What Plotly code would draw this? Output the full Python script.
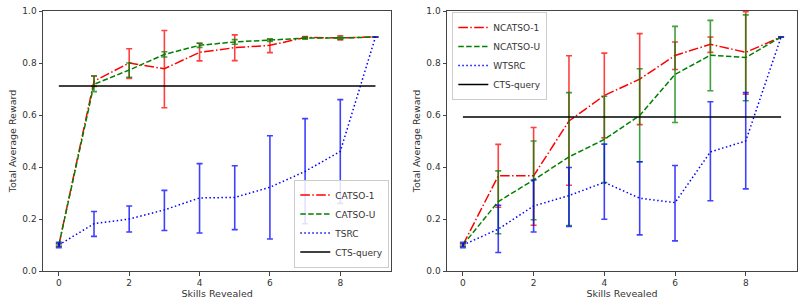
import plotly.graph_objects as go

skills = list(range(10))

# Left panel
catso1 = [0.10, 0.73, 0.80, 0.778, 0.841, 0.859, 0.868, 0.898, 0.897, 0.90]
catso1_hi = [0.105, 0.75, 0.855, 0.925, 0.876, 0.908, 0.89, 0.902, 0.905, 0.90]
catso1_lo = [0.095, 0.71, 0.741, 0.628, 0.808, 0.809, 0.84, 0.894, 0.889, 0.90]
catsou = [0.10, 0.718, 0.773, 0.833, 0.868, 0.881, 0.888, 0.896, 0.896, 0.90]
catsou_hi = [0.105, 0.75, 0.80, 0.843, 0.876, 0.89, 0.893, 0.90, 0.90, 0.90]
catsou_lo = [0.095, 0.69, 0.745, 0.823, 0.860, 0.872, 0.883, 0.892, 0.892, 0.90]
tsrc = [0.10, 0.182, 0.20, 0.235, 0.281, 0.283, 0.322, 0.383, 0.46, 0.90]
tsrc_hi = [0.11, 0.229, 0.25, 0.31, 0.413, 0.405, 0.52, 0.586, 0.659, 0.90]
tsrc_lo = [0.09, 0.133, 0.15, 0.156, 0.146, 0.159, 0.123, 0.182, 0.26, 0.90]
cts_left = [0.712] * 10

# Right panel
ncatso1 = [0.10, 0.366, 0.366, 0.577, 0.675, 0.738, 0.829, 0.872, 0.841, 0.90]
ncatso1_hi = [0.105, 0.487, 0.552, 0.828, 0.838, 0.913, 0.881, 0.90, 0.997, 0.90]
ncatso1_lo = [0.095, 0.245, 0.176, 0.33, 0.512, 0.563, 0.775, 0.841, 0.68, 0.90]
ncatsou = [0.10, 0.267, 0.35, 0.439, 0.506, 0.598, 0.756, 0.83, 0.821, 0.90]
ncatsou_hi = [0.105, 0.385, 0.50, 0.686, 0.672, 0.778, 0.941, 0.964, 0.985, 0.90]
ncatsou_lo = [0.095, 0.143, 0.197, 0.175, 0.34, 0.42, 0.571, 0.693, 0.655, 0.90]
wtsrc = [0.10, 0.161, 0.25, 0.29, 0.341, 0.28, 0.263, 0.458, 0.50, 0.90]
wtsrc_hi = [0.11, 0.253, 0.35, 0.398, 0.488, 0.42, 0.406, 0.651, 0.686, 0.90]
wtsrc_lo = [0.09, 0.071, 0.15, 0.171, 0.199, 0.139, 0.116, 0.27, 0.316, 0.90]
cts_right = [0.592] * 10

FONT = "DejaVu Sans"
TXT = "#333333"
DASHDOT = "9.6px,2.4px,1.5px,2.4px"
DASH = "5.5px,2.4px"
DOT = "1.5px,2.5px"


def err(y, hi, lo, color):
    return dict(
        type="data", symmetric=False,
        array=[h - v for h, v in zip(hi, y)],
        arrayminus=[v - l for v, l in zip(y, lo)],
        color=color, thickness=1.6, width=3,
    )


fig = go.Figure()


def add(y, hi, lo, name, color, ecolor, dash, xa, ya, legend):
    fig.add_trace(go.Scatter(
        x=skills, y=y, name=name, mode="lines",
        line=dict(color=color, width=1.5, dash=dash),
        error_y=err(y, hi, lo, ecolor) if hi is not None else None,
        xaxis=xa, yaxis=ya, legend=legend,
    ))


add(catso1, catso1_hi, catso1_lo, "CATSO-1", "#ff0000", "rgba(255,0,0,0.75)", DASHDOT, "x", "y", "legend")
add(catsou, catsou_hi, catsou_lo, "CATSO-U", "#008000", "rgba(0,128,0,0.75)", DASH, "x", "y", "legend")
add(tsrc, tsrc_hi, tsrc_lo, "TSRC", "#0000ff", "rgba(0,0,255,0.75)", DOT, "x", "y", "legend")
add(cts_left, None, None, "CTS-query", "#000000", None, "solid", "x", "y", "legend")

add(ncatso1, ncatso1_hi, ncatso1_lo, "NCATSO-1", "#ff0000", "rgba(255,0,0,0.75)", DASHDOT, "x2", "y2", "legend2")
add(ncatsou, ncatsou_hi, ncatsou_lo, "NCATSO-U", "#008000", "rgba(0,128,0,0.75)", DASH, "x2", "y2", "legend2")
add(wtsrc, wtsrc_hi, wtsrc_lo, "WTSRC", "#0000ff", "rgba(0,0,255,0.75)", DOT, "x2", "y2", "legend2")
add(cts_right, None, None, "CTS-query", "#000000", None, "solid", "x2", "y2", "legend2")

W, H = 804, 307
ML, MR, MT, MB = 42.7, 7.3, 11.0, 35.5
PW = W - ML - MR
PH = H - MT - MB


def px_x(p):
    return (p - ML) / PW


def px_y(p):
    return (H - MB - p) / PH


axis_common = dict(
    showgrid=False, zeroline=False, showline=True, mirror=True, automargin=False,
    linecolor="#444444", linewidth=1, ticks="outside", ticklen=3.5,
    tickcolor="#444444", tickfont=dict(family=FONT, size=9, color=TXT),
)
xcommon = dict(axis_common, range=[-0.45, 9.45], tickvals=[0, 2, 4, 6, 8],
               title=dict(text="Skills Revealed", font=dict(family=FONT, size=9.5, color=TXT), standoff=3))
ycommon = dict(axis_common, range=[0, 1], tickvals=[0, 0.2, 0.4, 0.6, 0.8, 1.0], tickformat=".1f",
               title=dict(text="Total Average Reward", font=dict(family=FONT, size=9.5, color=TXT), standoff=4))

leg_common = dict(
    font=dict(family=FONT, size=9, color=TXT),
    bgcolor="rgba(255,255,255,0.85)", bordercolor="#cccccc", borderwidth=1,
    tracegroupgap=0, itemwidth=30, xref="paper", yref="paper",
)

fig.update_layout(
    width=W, height=H, margin=dict(l=ML, r=MR, t=MT, b=MB, autoexpand=False),
    paper_bgcolor="white", plot_bgcolor="white",
    xaxis=dict(xcommon, domain=[0, px_x(391.0)], anchor="y"),
    yaxis=dict(ycommon, domain=[0, 1], anchor="x"),
    xaxis2=dict(xcommon, domain=[px_x(446.7), 1], anchor="y2"),
    yaxis2=dict(ycommon, domain=[0, 1], anchor="x2"),
    legend=dict(leg_common, x=px_x(389), y=px_y(268), xanchor="right", yanchor="bottom"),
    legend2=dict(leg_common, x=px_x(452), y=px_y(12), xanchor="left", yanchor="top"),
    showlegend=True,
)

fig.write_html("out.html")
